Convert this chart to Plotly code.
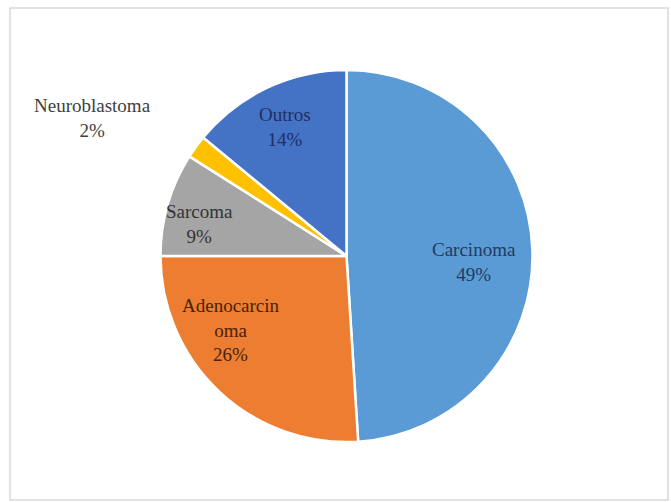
import plotly.graph_objects as go

labels = ["Carcinoma", "Adenocarcinoma", "Sarcoma", "Neuroblastoma", "Outros"]
display_labels = ["Carcinoma", "Adenocarcin<br>oma", "Sarcoma", "Neuroblastoma", "Outros"]
values = [49, 26, 9, 2, 14]
colors = ["#5B9BD5", "#ED7D31", "#A5A5A5", "#FFC000", "#4472C4"]
text_colors = ["#1F3B63", "#4A2208", "#333333", "#404040", "#1F2F5F"]
# label anchor points (pixels in the 671x502 canvas)
label_px = [(474, 262), (231, 330), (199, 224), (92, 118), (285, 127)]

W, H = 671, 502
font_family = "Liberation Serif"
font_size = 19

fig = go.Figure()
fig.add_trace(go.Pie(
    labels=labels,
    values=values,
    textinfo="none",
    sort=False,
    direction="clockwise",
    rotation=0,
    marker=dict(colors=colors, line=dict(color="white", width=2.5)),
    hoverinfo="label+percent",
    showlegend=False,
    domain=dict(x=[160 / W, 533 / W], y=[1 - 442 / H, 1 - 70 / H]),
))

for lab, val, col, (px, py) in zip(display_labels, values, text_colors, label_px):
    fig.add_annotation(
        x=px / W, y=1 - py / H, xref="paper", yref="paper",
        xanchor="center", yanchor="middle",
        text=f"{lab}<br>{val}%", showarrow=False,
        font=dict(family=font_family, size=font_size, color=col),
        align="center",
    )

fig.add_shape(type="rect", xref="paper", yref="paper",
              x0=10 / W, x1=668 / W, y0=1 - 500 / H, y1=1 - 8 / H,
              line=dict(color="#D9D9D9", width=1.5), fillcolor="rgba(0,0,0,0)")

fig.update_layout(
    width=W, height=H,
    margin=dict(l=0, r=0, t=0, b=0),
    paper_bgcolor="white", plot_bgcolor="white",
    font=dict(family=font_family),
)

fig.write_html("out.html")
